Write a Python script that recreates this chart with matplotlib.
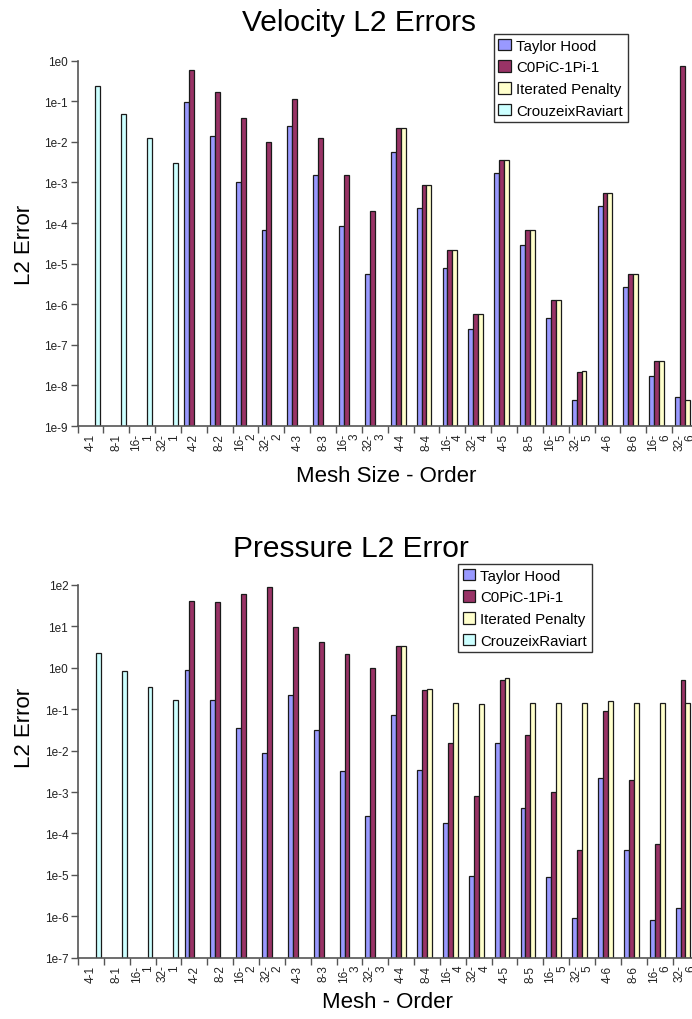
import numpy as np
import matplotlib
matplotlib.use("Agg")
import matplotlib.pyplot as plt

plt.rcParams['font.family'] = ['Liberation Sans', 'DejaVu Sans']

categories = ["4-1", "8-1", "16-1", "32-1",
              "4-2", "8-2", "16-2", "32-2",
              "4-3", "8-3", "16-3", "32-3",
              "4-4", "8-4", "16-4", "32-4",
              "4-5", "8-5", "16-5", "32-5",
              "4-6", "8-6", "16-6", "32-6"]
series_names = ["Taylor Hood", "C0PiC-1Pi-1", "Iterated Penalty", "CrouzeixRaviart"]
nan = np.nan

vel_taylor = [nan, nan, nan, nan,
              0.098, 0.0138, 0.001, 6.8e-5,
              0.025, 0.0015, 8.5e-5, 5.6e-6,
              0.0055, 2.35e-4, 8e-6, 2.5e-7,
              0.0017, 2.8e-5, 4.7e-7, 4.4e-9,
              2.7e-4, 2.7e-6, 1.75e-8, 5.1e-9]
vel_c0pic = [nan, nan, nan, nan,
             0.59, 0.167, 0.039, 0.01,
             0.114, 0.0123, 0.00155, 1.95e-4,
             0.022, 8.9e-4, 2.2e-5, 5.8e-7,
             0.0036, 6.9e-5, 1.28e-6, 2.1e-8,
             5.4e-4, 5.5e-6, 3.9e-8, 0.75]
vel_iter = [nan, nan, nan, nan,
            nan, nan, nan, nan,
            nan, nan, nan, nan,
            0.022, 8.9e-4, 2.2e-5, 5.8e-7,
            0.0036, 6.9e-5, 1.28e-6, 2.23e-8,
            5.4e-4, 5.5e-6, 4.1e-8, 4.4e-9]
vel_crouzeix = [0.24, 0.049, 0.0123, 0.003] + [nan] * 20

pre_taylor = [nan, nan, nan, nan,
              0.9, 0.17, 0.035, 0.0087,
              0.215, 0.032, 0.0032, 2.6e-4,
              0.071, 0.0034, 1.74e-4, 9.5e-6,
              0.015, 4.1e-4, 8.9e-6, 8.9e-7,
              0.0022, 4e-5, 7.9e-7, 1.6e-6]
pre_c0pic = [nan, nan, nan, nan,
             40, 38, 62, 88,
             9.7, 4.2, 2.1, 1.0,
             3.3, 0.29, 0.015, 8.1e-4,
             0.52, 0.024, 9.8e-4, 4e-5,
             0.089, 0.002, 5.6e-5, 0.5]
pre_iter = [nan, nan, nan, nan,
            nan, nan, nan, nan,
            nan, nan, nan, nan,
            3.3, 0.31, 0.14, 0.133,
            0.56, 0.14, 0.14, 0.14,
            0.16, 0.14, 0.14, 0.14]
pre_crouzeix = [2.3, 0.85, 0.35, 0.17] + [nan] * 20

vel_ticks = [1e0, 1e-1, 1e-2, 1e-3, 1e-4, 1e-5, 1e-6, 1e-7, 1e-8, 1e-9]
vel_ticklabels = ["1e0", "1e-1", "1e-2", "1e-3", "1e-4", "1e-5", "1e-6", "1e-7", "1e-8", "1e-9"]
pre_ticks = [1e2, 1e1, 1e0, 1e-1, 1e-2, 1e-3, 1e-4, 1e-5, 1e-6, 1e-7]
pre_ticklabels = ["1e2", "1e1", "1e0", "1e-1", "1e-2", "1e-3", "1e-4", "1e-5", "1e-6", "1e-7"]

colors = ["#9999FF", "#993366", "#FFFFCC", "#CCFFFF"]

W, H = 692, 1020
fig = plt.figure(figsize=(W / 100, H / 100), dpi=100)

cat_w = 25.85


def wrap_label(s):
    if len(s) >= 4:
        a, b = s.split("-")
        return a + "-\n" + b
    return s


def draw(ax, data, ticks, ticklabels, ylo, yhi):
    n = len(categories)
    x = np.arange(n)
    bw = 0.19
    offs = [-1.5, -0.5, 0.5, 1.5]
    for s, (vals, col, name) in enumerate(zip(data, colors, series_names)):
        vals = np.array(vals, dtype=float)
        m = ~np.isnan(vals)
        ax.bar(x[m] + offs[s] * bw, vals[m] - ylo, bottom=ylo, width=bw,
               color=col, edgecolor="#1a1a1a", linewidth=0.9, label=name,
               zorder=2)
    ax.set_yscale("log")
    ax.set_ylim(ylo, yhi)
    ax.set_xlim(-0.5, n - 0.5)
    ax.set_yticks(ticks)
    ax.set_yticklabels(ticklabels, fontsize=8.5)
    ax.yaxis.set_minor_locator(matplotlib.ticker.NullLocator())
    ax.tick_params(axis="y", which="major", length=5, width=1, color="#555555",
                   pad=2, labelcolor="#222222")
    ax.set_xticks(np.arange(n + 1) - 0.5)
    ax.set_xticklabels([])
    ax.set_xticks(x, minor=True)
    ax.set_xticklabels([wrap_label(c) for c in categories], minor=True,
                       rotation=90, fontsize=8.5, multialignment="right",
                       linespacing=0.95)
    ax.tick_params(axis="x", which="major", length=5, width=1, color="#555555")
    ax.tick_params(axis="x", which="minor", length=0, pad=5, labelcolor="#222222")
    for sp in ("top", "right"):
        ax.spines[sp].set_visible(False)
    for sp in ("left", "bottom"):
        ax.spines[sp].set_color("#555555")
        ax.spines[sp].set_linewidth(1.2)


def add_axes(left_px, top_px, bottom_px):
    width_px = cat_w * len(categories)
    return fig.add_axes([left_px / W, 1 - bottom_px / H,
                         width_px / W, (bottom_px - top_px) / H])


ax1 = add_axes(77.5, 61.7, 427)
draw(ax1, [vel_taylor, vel_c0pic, vel_iter, vel_crouzeix],
     vel_ticks, vel_ticklabels, 1e-9, 1e0)
ax2 = add_axes(78, 586, 958.6)
draw(ax2, [pre_taylor, pre_c0pic, pre_iter, pre_crouzeix],
     pre_ticks, pre_ticklabels, 1e-7, 1e2)

fig.text(359 / W, 1 - 23 / H, "Velocity L2 Errors", ha="center", va="center", fontsize=21.5)
fig.text(351 / W, 1 - 549 / H, "Pressure L2 Error", ha="center", va="center", fontsize=21.5)
fig.text(386 / W, 1 - 477 / H, "Mesh Size - Order", ha="center", va="center", fontsize=16)
fig.text(387 / W, 1 - 1003 / H, "Mesh - Order", ha="center", va="center", fontsize=16)
fig.text(25 / W, 1 - 245 / H, "L2 Error", ha="center", va="center", rotation=90, fontsize=16)
fig.text(25 / W, 1 - 728 / H, "L2 Error", ha="center", va="center", rotation=90, fontsize=16)

for ax, (lx, ly) in ((ax1, (494, 35)), (ax2, (458, 565))):
    leg = ax.legend(loc="upper left", bbox_to_anchor=(lx / W, 1 - ly / H),
                    bbox_transform=fig.transFigure, borderaxespad=0,
                    fontsize=10.8, fancybox=False, framealpha=1,
                    edgecolor="#333333", handlelength=0.85, handleheight=0.85,
                    handletextpad=0.35, labelspacing=0.5, borderpad=0.3)
    leg.get_frame().set_linewidth(1.0)

fig.savefig("out.png", dpi=100)
